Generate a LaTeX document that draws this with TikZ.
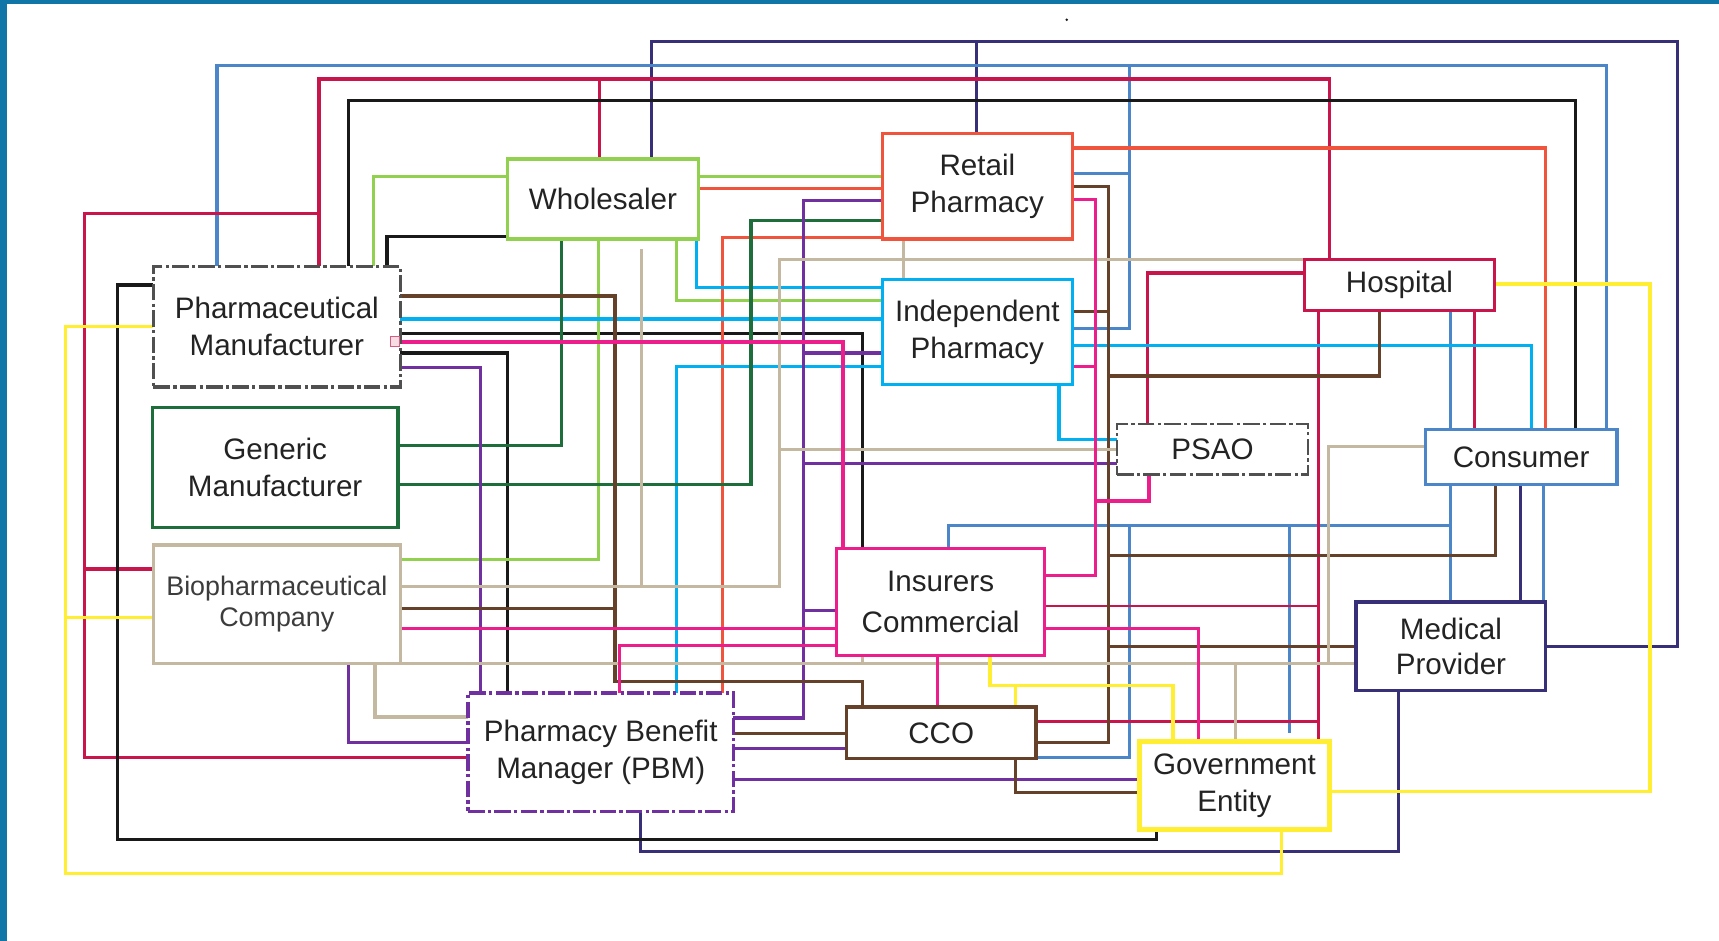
\documentclass[tikz,border=0pt]{standalone}
\usepackage{fontspec}
\setmainfont{Liberation Sans}
\usetikzlibrary{backgrounds}
\definecolor{frameblue}{RGB}{16,118,168}
\definecolor{txt}{RGB}{35,35,35}
\definecolor{cblue}{RGB}{74,134,200}
\definecolor{ccrim}{RGB}{200,22,76}
\definecolor{cblack}{RGB}{25,25,25}
\definecolor{cnavy}{RGB}{55,48,120}
\definecolor{clgreen}{RGB}{146,208,80}
\definecolor{corange}{RGB}{240,84,60}
\definecolor{csky}{RGB}{0,176,240}
\definecolor{cdgreen}{RGB}{30,110,60}
\definecolor{ctan}{RGB}{196,185,160}
\definecolor{cpink}{RGB}{236,30,140}
\definecolor{cpurple}{RGB}{112,48,160}
\definecolor{cbrown}{RGB}{100,65,40}
\definecolor{cyellow}{RGB}{255,238,50}
\definecolor{cgray}{RGB}{80,80,80}
\tikzset{
  box/.style={draw, fill=white, line width=3pt, align=center, inner sep=0pt, outer sep=0pt,
    text=txt, font=\fontsize{27}{34}\selectfont},
  dashdotbox/.style={dash pattern=on 15pt off 3pt on 3pt off 3pt},
  wire/.style={line width=2.9pt, line join=miter},
}
\begin{document}
\begin{tikzpicture}[x=1pt,y=-1pt]
\useasboundingbox (0,0) rectangle (1568,858);
% nodes
\node[box, draw=clgreen, minimum width=174pt, minimum height=73pt] (ws) at (550,181.5) {Wholesaler};
\node[box, draw=corange, minimum width=173pt, minimum height=96pt] (rp) at (891.5,170) {Retail\\Pharmacy};
\node[box, draw=ccrim, minimum width=173pt, minimum height=46pt] (hos) at (1276.5,260) {Hospital};
\node[box, draw=cgray, dashdotbox, minimum width=225pt, minimum height=110pt] (pm) at (252.5,298) {Pharmaceutical\\Manufacturer};
\node[box, draw=csky, minimum width=173pt, minimum height=96pt] (ip) at (891.5,303) {Independent\\Pharmacy};
\node[box, draw=cdgreen, minimum width=224pt, minimum height=109pt] (gm) at (251,426.5) {Generic\\Manufacturer};
\node[box, draw=cgray, dashdotbox, line width=2.2pt, minimum width=174pt, minimum height=46pt] (psao) at (1106,410) {PSAO};
\node[box, draw=cblue, minimum width=175pt, minimum height=50pt] (con) at (1387.5,417) {Consumer};
\node[box, draw=ctan, minimum width=225pt, minimum height=108pt, font=\fontsize{24.5}{29}\selectfont, text={rgb,255:red,60;green,60;blue,60}] (bio) at (252.5,551) {Biopharmaceutical\\Company};
\node[box, draw=cpink, minimum width=190pt, minimum height=98pt, font=\fontsize{27}{38}\selectfont] (ins) at (858,549) {Insurers\\Commercial};
\node[box, draw=cnavy, minimum width=173pt, minimum height=81pt, font=\fontsize{27}{32}\selectfont] (mp) at (1323.5,589.5) {Medical\\Provider};
\node[box, draw=cpurple, dashdotbox, minimum width=242pt, minimum height=108pt] (pbm) at (548,686) {Pharmacy Benefit\\Manager (PBM)};
\node[box, draw=cbrown, minimum width=173pt, minimum height=47pt] (cco) at (858.5,668.5) {CCO};
\node[box, draw=cyellow, line width=4.5pt, minimum width=174pt, minimum height=81pt] (gov) at (1126,716.5) {Government\\Entity};
\begin{pgfonlayer}{background}
\fill[frameblue] (0,0) rectangle (1568,4);
\fill[frameblue] (0,0) rectangle (6,858);
\fill[cblack] (973,18) circle (1.2pt);
% navy
\draw[wire, cnavy] (ws.north -| 594,0) -- (594,38) -- (1530,38) -- (1530,590) -- (mp.east |- 0,590);
\draw[wire, cnavy] (rp.north -| 891,0) -- (891,38);
\draw[wire, cnavy] (con.south -| 1387,0) -- (mp.north -| 1387,0);
\draw[wire, cnavy] (mp.south -| 1276,0) -- (1276,777) -- (584,777) -- (pbm.south -| 584,0);
% steel blue
\draw[wire, cblue] (pm.north -| 198,0) -- (198,60) -- (1465,60) -- (con.north -| 1465,0);
\draw[wire, cblue] (1030,60) -- (1030,300) -- (ip.east |- 0,300);
\draw[wire, cblue] (rp.east |- 0,158) -- (1030,158);
\draw[wire, cblue] (hos.south -| 1323,0) -- (con.north -| 1323,0);
\draw[wire, cblue] (con.south -| 1323,0) -- (mp.north -| 1323,0);
\draw[wire, cblue] (1323,479) -- (865,479) -- (ins.north -| 865,0);
\draw[wire, cblue] (1030,479) -- (1030,691) -- (cco.east |- 0,691);
\draw[wire, cblue] (1176,479) -- (1176,669);
\draw[wire, cblue] (con.south -| 1408,0) -- (mp.north -| 1408,0);
% crimson
\draw[wire, ccrim] (pm.north -| 291,0) -- (291,72) -- (1213,72) -- (hos.north -| 1213,0);
\draw[wire, ccrim] (547,72) -- (ws.north -| 547,0);
\draw[wire, ccrim] (291,195) -- (77,195) -- (77,691) -- (pbm.west |- 0,691);
\draw[wire, ccrim] (77,519) -- (bio.west |- 0,519);
\draw[wire, ccrim] (hos.west |- 0,249) -- (1047,249) -- (psao.north -| 1047,0);
\draw[wire, ccrim] (hos.south -| 1203,0) -- (gov.north -| 1203,0);
\draw[wire, ccrim, line width=2pt] (ins.east |- 0,553) -- (1203,553);
\draw[wire, ccrim] (cco.east |- 0,658) -- (1203,658);
\draw[wire, ccrim] (hos.south -| 1345,0) -- (con.north -| 1345,0);
% black
\draw[wire, cblack] (pm.north -| 318,0) -- (318,92) -- (1437,92) -- (con.north -| 1437,0);
\draw[wire, cblack] (pm.north -| 353,0) -- (353,216) -- (ws.west |- 0,216);
\draw[wire, cblack] (pm.west |- 0,260) -- (107,260) -- (107,766) -- (1055,766) -- (gov.south -| 1055,0);
\draw[wire, cblack] (pm.east |- 0,304) -- (787,304) -- (ins.north -| 787,0);
\draw[wire, cblack] (pm.east |- 0,322) -- (463,322) -- (pbm.north -| 463,0);
% light green
\draw[wire, clgreen] (ws.west |- 0,161) -- (341,161) -- (pm.north -| 341,0);
\draw[wire, clgreen] (ws.east |- 0,161) -- (rp.west |- 0,161);
\draw[wire, clgreen] (ws.south -| 617,0) -- (617,274) -- (ip.west |- 0,274);
\draw[wire, clgreen] (ws.south -| 546,0) -- (546,510) -- (bio.east |- 0,510);
% orange
\draw[wire, corange] (ws.east |- 0,172) -- (rp.west |- 0,172);
\draw[wire, corange] (rp.east |- 0,135) -- (1410,135) -- (con.north -| 1410,0);
\draw[wire, corange] (rp.west |- 0,217) -- (659,217) -- (pbm.north -| 659,0);
% sky
\draw[wire, csky] (ws.south -| 635,0) -- (635,262) -- (ip.west |- 0,262);
\draw[wire, csky] (pm.east |- 0,291) -- (ip.west |- 0,291);
\draw[wire, csky] (ip.west |- 0,334) -- (617,334) -- (pbm.north -| 617,0);
\draw[wire, csky] (ip.east |- 0,315) -- (1397,315) -- (con.north -| 1397,0);
\draw[wire, csky] (ip.south -| 966,0) -- (966,401) -- (psao.west |- 0,401);
% dark green
\draw[wire, cdgreen] (gm.east |- 0,406) -- (512,406) -- (ws.south -| 512,0);
\draw[wire, cdgreen] (gm.east |- 0,442) -- (685,442) -- (685,201) -- (rp.west |- 0,201);
% purple
\draw[wire, cpurple] (pm.east |- 0,335) -- (438,335) -- (pbm.north -| 438,0);
\draw[wire, cpurple] (rp.west |- 0,183) -- (733,183) -- (733,655) -- (pbm.east |- 0,655);
\draw[wire, cpurple] (ip.west |- 0,322) -- (733,322);
\draw[wire, cpurple] (733,423) -- (psao.west |- 0,423);
\draw[wire, cpurple] (733,557) -- (ins.west |- 0,557);
\draw[wire, cpurple] (bio.south -| 318,0) -- (318,677) -- (pbm.west |- 0,677);
\draw[wire, cpurple] (pbm.east |- 0,683) -- (cco.west |- 0,683);
\draw[wire, cpurple] (pbm.east |- 0,711) -- (gov.west |- 0,711);
% brown
\draw[wire, cbrown] (pm.east |- 0,270) -- (561,270) -- (561,622) -- (787,622) -- (cco.north -| 787,0);
\draw[wire, cbrown] (bio.east |- 0,555) -- (561,555);
\draw[wire, cbrown] (pbm.east |- 0,669) -- (cco.west |- 0,669);
\draw[wire, cbrown] (rp.east |- 0,170) -- (1011,170) -- (1011,677) -- (cco.east |- 0,677);
\draw[wire, cbrown] (ip.east |- 0,284) -- (1011,284);
\draw[wire, cbrown] (1011,343) -- (1258,343) -- (hos.south -| 1258,0);
\draw[wire, cbrown] (1011,507) -- (1364,507) -- (con.south -| 1364,0);
\draw[wire, cbrown] (1011,590) -- (mp.west |- 0,590);
\draw[wire, cbrown] (cco.south -| 926,0) -- (926,723) -- (gov.west |- 0,723);
% tan
\draw[wire, ctan] (bio.east |- 0,535) -- (711,535) -- (711,237) -- (hos.north west);
\draw[wire, ctan] (585,227) -- (585,535);
\draw[wire, ctan] (rp.south -| 824,0) -- (ip.north -| 824,0);
\draw[wire, ctan] (711,410) -- (psao.west |- 0,410);
\draw[wire, ctan] (bio.east |- 0,605) -- (mp.west |- 0,605);
\draw[wire, ctan] (1127,605) -- (gov.north -| 1127,0);
\draw[wire, ctan] (con.west |- 0,407) -- (1212,407) -- (1212,605);
\draw[wire, ctan] (ins.south -| 787,0) -- (787,605);
\draw[wire, ctan] (bio.south -| 342,0) -- (342,654) -- (pbm.west |- 0,654);
% pink
\draw[wire, cpink] (pm.east |- 0,312) -- (769,312) -- (ins.north -| 769,0);
\draw[wire, cpink] (bio.east |- 0,573) -- (ins.west |- 0,573);
\draw[wire, cpink] (pbm.north -| 565,0) -- (565,589) -- (ins.west |- 0,589);
\draw[wire, cpink] (rp.east |- 0,182) -- (999,182) -- (999,525) -- (ins.east |- 0,525);
\draw[wire, cpink] (ip.east |- 0,334) -- (999,334);
\draw[wire, cpink] (psao.south -| 1048,0) -- (1048,457) -- (999,457);
\draw[wire, cpink] (ins.east |- 0,573) -- (1093,573) -- (gov.north -| 1093,0);
\draw[wire, cpink] (ins.south -| 855,0) -- (cco.north -| 855,0);
% yellow
\draw[wire, cyellow] (pm.west |- 0,298) -- (60,298) -- (60,797) -- (1169,797) -- (gov.south -| 1169,0);
\draw[wire, cyellow] (bio.west |- 0,563) -- (60,563);
\draw[wire, cyellow] (hos.east |- 0,259) -- (1505,259) -- (1505,722) -- (gov.east |- 0,722);
\draw[wire, cyellow] (ins.south -| 903,0) -- (903,625) -- (1070,625) -- (gov.north -| 1070,0);
\draw[wire, cyellow] (926,625) -- (cco.north -| 926,0);
\end{pgfonlayer}
\draw[ccrim!70, fill=ccrim!15, line width=0.8pt] (356,307) rectangle (364,316);
\end{tikzpicture}
\end{document}
